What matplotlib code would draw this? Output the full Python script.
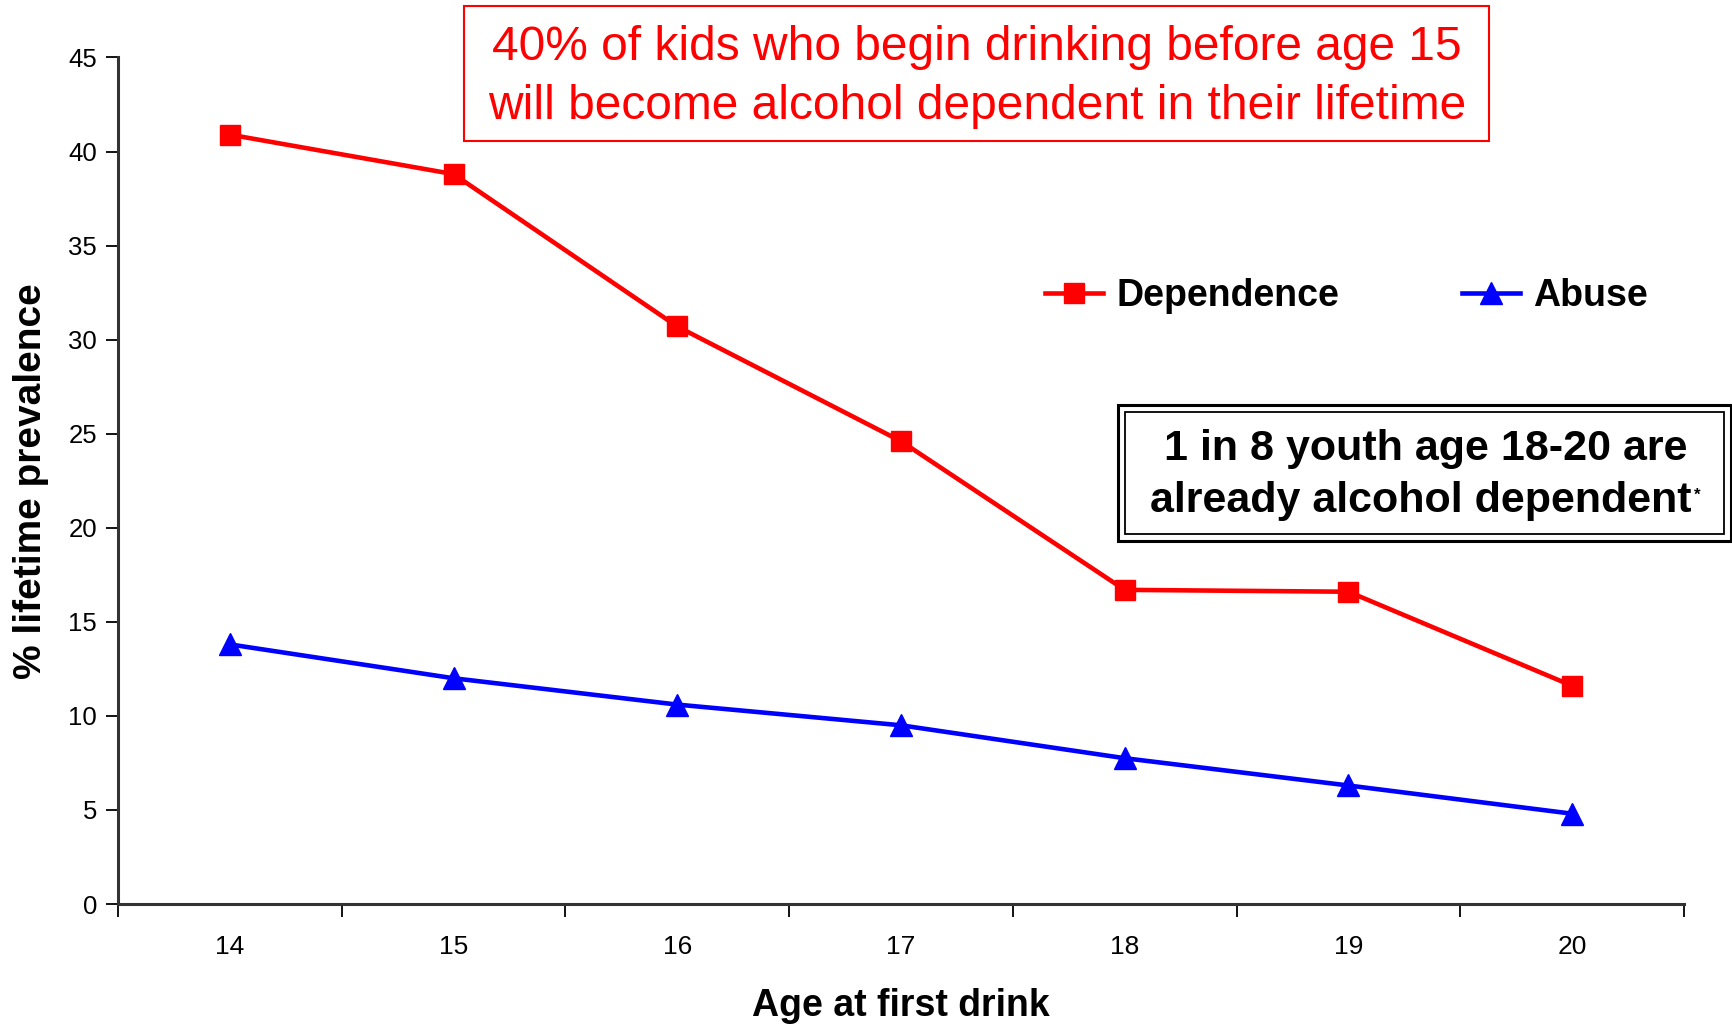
import matplotlib
matplotlib.use("Agg")
import matplotlib.pyplot as plt
from matplotlib.patches import Rectangle

ages = ["14", "15", "16", "17", "18", "19", "20"]
dependence = [40.9, 38.8, 30.7, 24.6, 16.7, 16.6, 11.6]
abuse = [13.8, 12.0, 10.6, 9.5, 7.75, 6.3, 4.8]
yticks = [0, 5, 10, 15, 20, 25, 30, 35, 40, 45]

plt.rcParams['font.family'] = ['Liberation Sans', 'DejaVu Sans']

W, H = 1733, 1026
fig = plt.figure(figsize=(W/100, H/100), dpi=100)
ax = fig.add_axes([118/W, 1-904/H, (1684-118)/W, (904-57.5)/H])

x = list(range(len(ages)))
l1, = ax.plot(x, dependence, color='#ff0000', lw=3.3, marker='s', ms=15, label='Dependence')
l2, = ax.plot(x, abuse, color='#0000ff', lw=3.3, marker='^', ms=16, label='Abuse')

ax.set_xlim(-0.5, len(ages)-0.5)
ax.set_ylim(0, 45)
ax.set_yticks(yticks)
ax.set_yticklabels([str(v) for v in yticks], fontsize=18.5)
ax.set_xticks([i - 0.5 for i in range(len(ages)+1)])
ax.set_xticklabels([])
ax.set_xticks(x, minor=True)
ax.set_xticklabels(ages, minor=True, fontsize=19)
ax.tick_params(axis='x', which='minor', length=0, pad=22)
ax.tick_params(axis='x', which='major', length=9, width=1.3, direction='out')
ax.tick_params(axis='y', length=9, width=1.3, direction='out', pad=6)
for s in ['top', 'right']:
    ax.spines[s].set_visible(False)
for s in ['left', 'bottom']:
    ax.spines[s].set_linewidth(2.2)
    ax.spines[s].set_color('#333333')

ax.set_xlabel('Age at first drink', fontsize=27, fontweight='bold')
ax.xaxis.set_label_coords(0.5, (904 - 1006) / (904 - 57.5))
ax.xaxis.label.set_va('center')
ax.set_ylabel('% lifetime prevalence', fontsize=28, fontweight='bold')
ax.yaxis.set_label_coords((31 - 118) / (1684 - 118), 0.5)
ax.yaxis.label.set_va('center')

prop = {'weight': 'bold', 'size': 27}
leg1 = fig.legend(handles=[l1], labels=['Dependence'], loc='center left',
                  bbox_to_anchor=(1045/W, 1-296/H), frameon=False, borderpad=0, borderaxespad=0,
                  handlelength=1.55, handletextpad=0.35, prop=prop)
leg2 = fig.legend(handles=[l2], labels=['Abuse'], loc='center left',
                  bbox_to_anchor=(1462/W, 1-296/H), frameon=False, borderpad=0, borderaxespad=0,
                  handlelength=1.55, handletextpad=0.35, prop=prop)

# red message box
fig.patches.append(Rectangle((464/W, 1-141/H), (1489-464)/W, (141-5.5)/H, transform=fig.transFigure,
                             fill=False, edgecolor='#ff0000', lw=1.5))
fig.text(977/W, 1-77/H, '40% of kids who begin drinking before age 15\nwill become alcohol dependent in their lifetime',
         ha='center', va='center', color='#ff0000', fontsize=34.5, linespacing=1.38)

# black double box
fig.patches.append(Rectangle((1118/W, 1-541/H), (1731-1118)/W, (541-405)/H, transform=fig.transFigure,
                             fill=False, edgecolor='black', lw=2.2))
fig.patches.append(Rectangle((1125/W, 1-534/H), (1724-1125)/W, (534-412)/H, transform=fig.transFigure,
                             fill=False, edgecolor='black', lw=1.3))
fig.text(1426/W, 1-449/H, '1 in 8 youth age 18-20 are',
         ha='center', va='center', color='black', fontsize=31, fontweight='bold')
t2 = fig.text(1421/W, 1-501/H, 'already alcohol dependent',
              ha='center', va='center', color='black', fontsize=31, fontweight='bold')
fig.canvas.draw()
bb = t2.get_window_extent(renderer=fig.canvas.get_renderer())
fig.text(bb.x1/W + 2/W, bb.y1/H - 22/H, '*', ha='left', va='bottom', color='black',
         fontsize=12, fontweight='bold')

fig.savefig('out.png', dpi=100)
